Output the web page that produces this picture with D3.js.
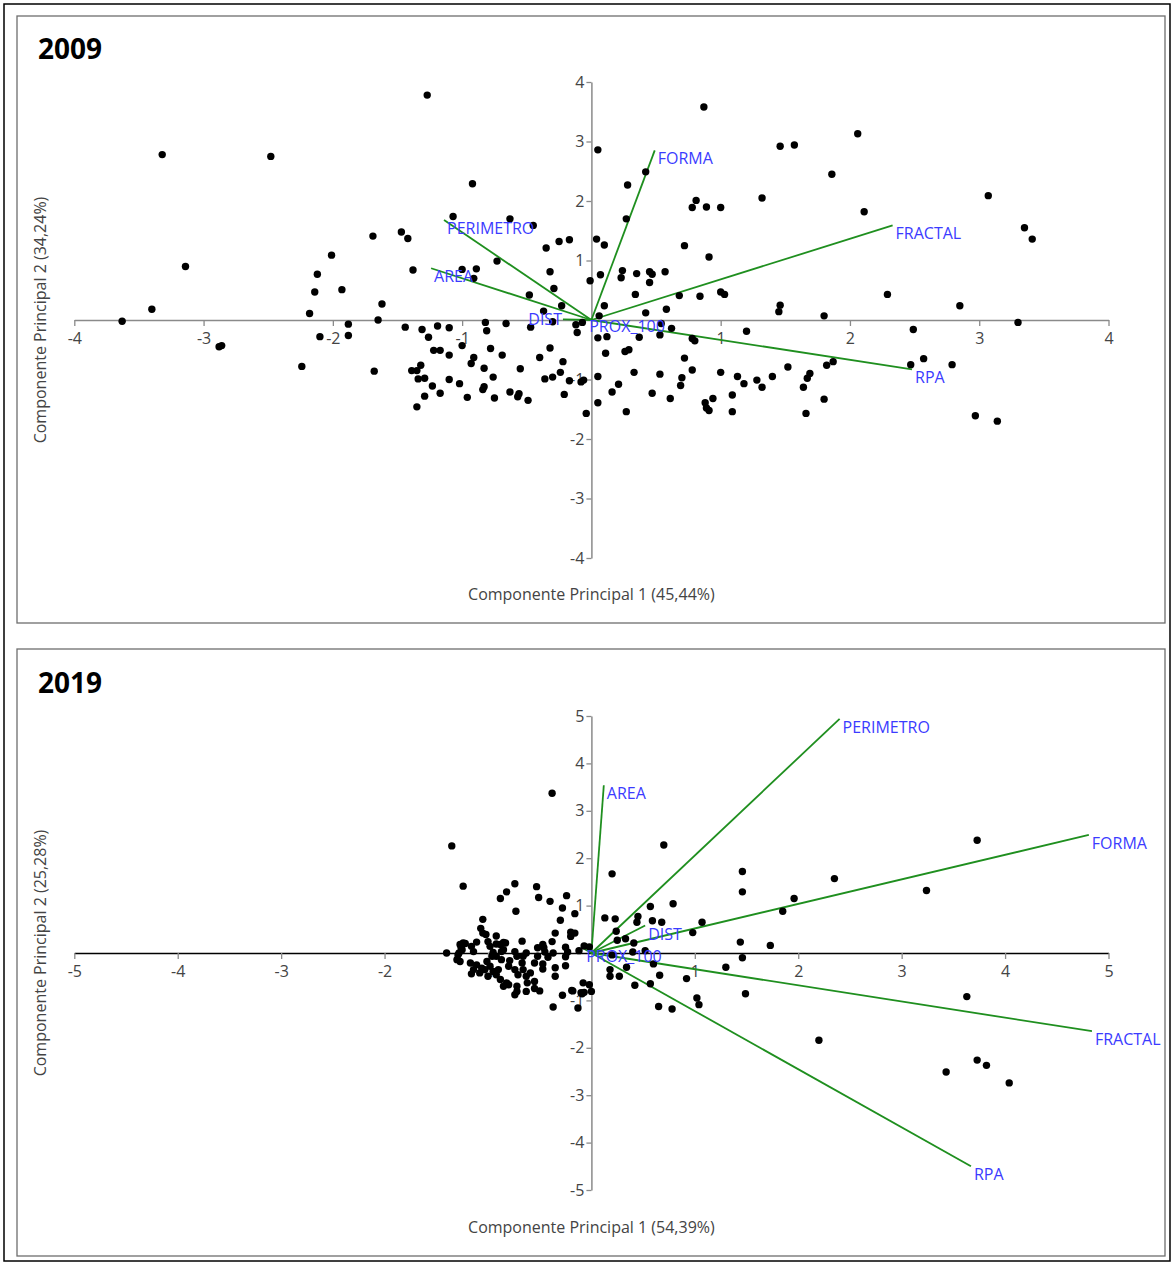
<!DOCTYPE html>
<html><head><meta charset="utf-8">
<script src="https://cdn.jsdelivr.net/npm/d3@7"></script>
<style>body{margin:0;background:#fff}svg{display:block}</style>
</head><body>
<svg id="chart" width="1173" height="1263"></svg>
<script>
const panelTitles = ["2009", "2019"];
const xTitles = ["Componente Principal 1 (45,44%)", "Componente Principal 1 (54,39%)"];
const yTitles = ["Componente Principal 2 (34,24%)", "Componente Principal 2 (25,28%)"];
const ticks2009 = [-4, -3, -2, -1, 1, 2, 3, 4];
const ticks2019 = [-5, -4, -3, -2, -1, 1, 2, 3, 4, 5];

const vectorNames2009 = ["FORMA", "FRACTAL", "PERIMETRO", "AREA", "DIST", "PROX_100", "RPA"];
const vectorX2009 = [0.49, 2.33, -1.14, -1.24, -0.22, -0.04, 2.48];
const vectorY2009 = [2.85, 1.59, 1.68, 0.87, 0.01, 0.04, -0.83];

const vectorNames2019 = ["PERIMETRO", "AREA", "FORMA", "DIST", "PROX_100", "FRACTAL", "RPA"];
const vectorX2019 = [2.40, 0.12, 4.81, 0.52, -0.08, 4.84, 3.67];
const vectorY2019 = [4.94, 3.54, 2.49, 0.58, 0.10, -1.65, -4.50];

const scores2009 = [
[-3.32,2.78],[-2.48,2.75],[-3.14,0.90],[-3.40,0.18],[-3.63,-0.02],[-1.27,3.78],[-0.92,2.29],[-2.01,1.09],[-2.12,0.77],[-2.14,0.47],[-1.93,0.51],[-2.18,0.11],[-1.69,1.41],[-1.47,1.48],[-1.42,1.37],[-1.38,0.84],[-1.62,0.27],[-1.65,0.00],[-1.88,-0.07],[-1.07,1.74],
[-0.63,1.70],[-0.45,1.59],[-0.73,0.99],[-1.00,0.85],[-0.89,0.86],[-0.91,0.70],[-0.48,0.42],[-0.23,0.24],[-0.37,0.15],[-0.35,1.21],[-0.25,1.32],[-0.17,1.35],[-0.32,0.81],[-0.29,0.53],[-0.01,0.66],[0.04,1.36],[0.05,2.86],[0.07,0.76],[0.87,3.58],[0.42,2.49],
[0.28,2.27],[0.27,1.70],[1.46,2.92],[1.57,2.94],[2.06,3.13],[1.86,2.45],[1.32,2.05],[0.78,1.89],[0.81,2.01],[0.89,1.90],[1.00,1.89],[2.11,1.82],[3.07,2.09],[3.35,1.55],[3.41,1.36],[0.10,1.26],[0.72,1.25],[0.91,1.06],[0.24,0.83],[0.23,0.71],
[0.35,0.78],[0.45,0.81],[0.47,0.77],[0.57,0.81],[0.45,0.63],[0.34,0.43],[0.68,0.41],[0.84,0.40],[1.00,0.47],[1.03,0.43],[0.10,0.24],[0.42,0.12],[0.58,0.18],[0.06,0.07],[-0.07,-0.04],[1.46,0.25],[1.45,0.14],[1.80,0.07],[2.29,0.43],[2.85,0.24],
[3.30,-0.04],[2.49,-0.16],[1.20,-0.19],[0.62,-0.14],[0.53,-0.25],[0.37,-0.29],[0.12,-0.28],[0.05,-0.30],[0.80,-0.35],[0.78,-0.31],[0.54,-0.06],[0.11,-0.56],[0.26,-0.53],[0.29,-0.50],[0.72,-0.64],[2.57,-0.65],[0.78,-0.84],[0.33,-0.88],[0.05,-0.95],[0.53,-0.91],
[0.70,-0.97],[0.69,-1.10],[0.21,-1.08],[0.16,-1.21],[0.47,-1.23],[0.05,-1.39],[0.27,-1.54],[0.61,-1.32],[1.00,-0.88],[1.13,-0.95],[1.18,-1.07],[1.28,-1.01],[1.32,-1.13],[1.40,-0.95],[1.52,-0.79],[1.64,-1.13],[1.67,-0.98],[1.69,-0.90],[1.82,-0.76],[1.87,-0.70],
[1.09,-1.26],[0.94,-1.32],[0.88,-1.39],[0.89,-1.48],[0.91,-1.52],[1.09,-1.54],[1.80,-1.33],[1.66,-1.57],[2.47,-0.75],[2.79,-0.75],[2.97,-1.61],[3.14,-1.70],[-0.04,-1.57],[-0.06,-1.01],[-0.08,-1.04],[-2.88,-0.45],[-2.86,-0.43],[-2.10,-0.28],[-1.88,-0.26],[-2.24,-0.78],
[-1.68,-0.86],[-1.44,-0.12],[-1.31,-0.16],[-1.19,-0.10],[-1.10,-0.13],[-1.26,-0.29],[-1.22,-0.51],[-1.17,-0.51],[-1.10,-0.59],[-1.00,-0.43],[-0.82,-0.04],[-0.81,-0.18],[-0.66,-0.06],[-0.47,-0.12],[-0.78,-0.48],[-0.69,-0.59],[-0.91,-0.63],[-0.93,-0.73],[-0.83,-0.81],[-0.76,-0.96],
[-0.55,-0.82],[-0.40,-0.63],[-0.32,-0.47],[-0.22,-0.70],[-0.24,-0.88],[-0.17,-1.02],[-0.36,-0.99],[-0.30,-0.96],[-0.21,-1.25],[-0.12,-0.08],[-0.11,-0.21],[-0.30,-0.03],[-1.32,-0.76],[-1.35,-0.85],[-1.39,-0.85],[-1.29,-0.98],[-1.34,-0.99],[-1.23,-1.11],[-1.17,-1.23],[-1.29,-1.28],
[-1.35,-1.46],[-1.10,-1.00],[-1.02,-1.07],[-0.96,-1.30],[-0.84,-1.17],[-0.83,-1.12],[-0.75,-1.31],[-0.63,-1.21],[-0.57,-1.29],[-0.56,-1.24],[-0.49,-1.35]
];

const scores2019 = [
[3.73,2.38],[3.24,1.32],[2.35,1.57],[1.96,1.15],[1.85,0.88],[1.46,1.72],[1.46,1.29],[1.44,0.23],[1.73,0.16],[1.46,-0.10],[1.30,-0.30],[1.07,0.65],[0.98,0.43],[0.79,1.04],[0.70,2.28],[0.20,1.67],[0.57,0.98],[0.59,0.68],[0.68,0.65],[0.45,0.77],
[0.44,0.65],[0.13,0.74],[0.23,0.72],[0.24,0.46],[0.25,0.27],[0.33,0.30],[0.41,0.21],[0.52,0.05],[0.40,0.02],[0.60,-0.23],[0.66,-0.47],[0.92,-0.54],[0.34,-0.30],[0.27,-0.49],[0.18,-0.35],[0.18,-0.49],[0.42,-0.68],[0.57,-0.65],[0.20,-0.04],[-0.07,0.15],
[-0.02,0.13],[-0.12,0.05],[-0.24,1.21],[-0.28,0.95],[-0.16,0.83],[-0.30,0.69],[-0.20,0.44],[-0.16,0.42],[-0.20,0.35],[-0.25,0.12],[-0.23,0.02],[-0.25,-0.08],[-0.25,-0.27],[-0.08,-0.63],[-0.02,-0.67],[3.63,-0.92],[2.20,-1.84],[3.43,-2.51],[3.73,-2.26],[3.82,-2.37],
[4.04,-2.74],[1.49,-0.86],[1.02,-0.95],[1.04,-1.09],[0.78,-1.18],[0.65,-1.13],[-0.28,-0.89],[-0.18,-0.80],[-0.13,-1.16],[-0.10,-0.84],[-0.07,-0.83],[0.00,-0.81],[-0.38,3.37],[-1.35,2.26],[-1.24,1.41],[-0.74,1.46],[-0.82,1.29],[-0.88,1.15],[-0.53,1.40],[-0.51,1.17],
[-0.40,1.09],[-0.73,0.88],[-1.05,0.71],[-0.35,0.42],[-0.67,0.25],[-0.38,0.24],[-0.92,0.36],[-1.07,0.52],[-1.05,0.42],[-1.02,0.39],[-0.47,0.18],[-0.46,0.11],[-0.52,0.11],[-0.37,0.00],[-0.42,-0.09],[-0.35,-0.31],[-0.35,-0.49],[-0.47,-0.23],[-0.47,-0.34],[-0.52,-0.07],
[-0.55,-0.21],[-0.59,-0.42],[-0.66,-0.07],[-0.63,0.00],[-0.74,0.03],[-0.72,-0.07],[-0.83,0.21],[-0.85,0.07],[-0.79,-0.16],[-0.80,-0.28],[-0.74,-0.35],[-0.71,-0.46],[-0.63,-0.49],[-0.62,-0.63],[-0.55,-0.75],[-0.72,-0.70],[-0.72,-0.81],[-0.63,-0.81],[-0.82,-0.63],[-0.85,-0.70],
[-0.80,-0.67],[-0.88,-0.56],[-0.92,-0.46],[-0.95,-0.39],[-0.98,-0.28],[-1.01,-0.18],[-0.96,-0.07],[-0.92,-0.07],[-1.06,-0.32],[-1.08,-0.42],[-1.11,-0.25],[-1.14,-0.35],[-1.17,-0.21],[-1.16,-0.44],[-1.03,-0.35],[-1.00,-0.49],[-0.90,-0.35],[-0.87,-0.14],[-1.27,-0.18],[-1.30,-0.14],
[-1.29,-0.04],[-1.40,0.00],[-1.27,0.18],[-1.22,0.20],[-1.25,0.07],[-1.11,0.23],[-1.16,0.14],[-1.14,0.03],[-1.00,0.24],[-0.98,0.14],[-0.95,0.01],[-0.88,0.18],[-0.87,0.03],[-0.67,-0.21],[-0.66,-0.35],[-0.09,-0.86],[-0.19,-0.79],[-0.37,-1.14],[-0.74,-0.88],[-0.92,0.19],
[-0.85,0.22],[-1.26,0.11],[-1.28,0.00],[-1.24,0.21],[-0.45,0.02],[-0.55,-0.60],[-0.50,-0.80]
];

const FONT = '"Open Sans", "Noto Sans", sans-serif';
const svg = d3.select("#chart");

svg.append("rect").attr("x", 4).attr("y", 4).attr("width", 1166).attr("height", 1257)
  .attr("fill", "none").attr("stroke", "#000").attr("stroke-width", 1.5);

const panels = [
  { title: panelTitles[0], xTitle: xTitles[0], yTitle: yTitles[0],
    frame: [17, 16, 1148, 607], xDom: [-4, 4], yDom: [-4, 4], ticks: ticks2009,
    yRange: [558, 82], xAxisColor: "#8a8a8a", titleY: 59, xTitleY: 600, yTitleY: 320,
    scores: scores2009, names: vectorNames2009, vx: vectorX2009, vy: vectorY2009, leftLabels: ["DIST"] },
  { title: panelTitles[1], xTitle: xTitles[1], yTitle: yTitles[1],
    frame: [17, 649, 1148, 607], xDom: [-5, 5], yDom: [-5, 5], ticks: ticks2019,
    yRange: [1190, 716], xAxisColor: "#000", titleY: 693, xTitleY: 1233, yTitleY: 953,
    scores: scores2019, names: vectorNames2019, vx: vectorX2019, vy: vectorY2019, leftLabels: [] }
];

panels.forEach(p => {
  const g = svg.append("g");
  g.append("rect").attr("x", p.frame[0]).attr("y", p.frame[1]).attr("width", p.frame[2]).attr("height", p.frame[3])
    .attr("fill", "#fff").attr("stroke", "#6e6e6e").attr("stroke-width", 1.3);

  const x = d3.scaleLinear().domain(p.xDom).range([74.3, 1108.5]);
  const y = d3.scaleLinear().domain(p.yDom).range(p.yRange);

  const gx = g.append("g").attr("transform", `translate(0,${y(0)})`)
    .call(d3.axisBottom(x).tickValues(p.ticks).tickSize(6).tickSizeOuter(0).tickPadding(7).tickFormat(d => String(d)));
  gx.attr("font-family", FONT).attr("font-size", 16);
  gx.select(".domain").attr("stroke", p.xAxisColor).attr("stroke-width", 1.5);
  gx.selectAll(".tick line").attr("stroke", "#8a8a8a").attr("stroke-width", 1.3);
  gx.selectAll(".tick text").attr("fill", "#444");

  const gy = g.append("g").attr("transform", `translate(${x(0)},0)`)
    .call(d3.axisLeft(y).tickValues(p.ticks).tickSize(5).tickSizeOuter(0).tickPadding(2).tickFormat(d => String(d)));
  gy.attr("font-family", FONT).attr("font-size", 16);
  gy.select(".domain").attr("stroke", "#8a8a8a").attr("stroke-width", 1.5);
  gy.selectAll(".tick line").attr("stroke", "#8a8a8a").attr("stroke-width", 1.3);
  gy.selectAll(".tick text").attr("fill", "#444");

  const vecs = p.names.map((n, i) => ({ name: n, x: p.vx[i], y: p.vy[i] }));
  g.append("g").selectAll("line").data(vecs).join("line")
    .attr("x1", x(0)).attr("y1", y(0))
    .attr("x2", d => x(d.x)).attr("y2", d => y(d.y))
    .attr("stroke", "#1f8f1f").attr("stroke-width", 1.8);

  g.append("g").selectAll("circle").data(p.scores).join("circle")
    .attr("cx", d => x(d[0])).attr("cy", d => y(d[1])).attr("r", 3.7).attr("fill", "#000");

  g.append("g").selectAll("text").data(vecs).join("text")
    .attr("x", d => p.leftLabels.includes(d.name) ? x(d.x) - 1 : x(d.x) + 3)
    .attr("y", d => p.leftLabels.includes(d.name) ? y(d.y) + 6 : y(d.y) + 14)
    .attr("text-anchor", d => p.leftLabels.includes(d.name) ? "end" : "start")
    .attr("font-family", FONT).attr("font-size", 16).attr("fill", "#3b3bff")
    .text(d => d.name);

  g.append("text").attr("x", 38).attr("y", p.titleY).attr("font-family", FONT)
    .attr("font-size", 28).attr("font-weight", "bold").attr("fill", "#000").text(p.title);

  g.append("text").attr("x", x(0)).attr("y", p.xTitleY).attr("text-anchor", "middle")
    .attr("font-family", FONT).attr("font-size", 16).attr("fill", "#444").text(p.xTitle);

  g.append("text").attr("transform", `translate(46,${p.yTitleY}) rotate(-90)`).attr("text-anchor", "middle")
    .attr("font-family", FONT).attr("font-size", 16).attr("fill", "#444").text(p.yTitle);
});
</script>
</body></html>
